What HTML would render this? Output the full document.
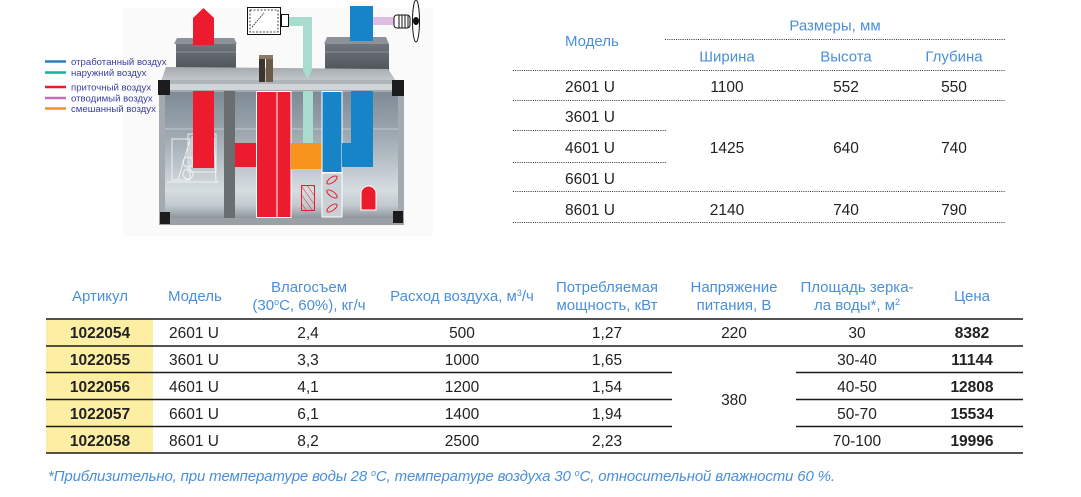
<!DOCTYPE html>
<html>
<head>
<meta charset="utf-8">
<style>
html,body{margin:0;padding:0;background:#fff;}
svg{display:block;}
text{font-family:"Liberation Sans",Arial,sans-serif;}
</style>
</head>
<body>
<svg width="1081" height="497" viewBox="0 0 1081 497" xmlns="http://www.w3.org/2000/svg">
<defs>
<linearGradient id="panel" x1="0" y1="0" x2="0" y2="1">
<stop offset="0" stop-color="#7e8a95"/>
<stop offset="0.3" stop-color="#99a4ad"/>
<stop offset="0.55" stop-color="#b8c1c8"/>
<stop offset="0.78" stop-color="#d6dde1"/>
<stop offset="0.9" stop-color="#c3cacf"/>
<stop offset="1" stop-color="#8e959b"/>
</linearGradient>
<linearGradient id="topplate" x1="0" y1="0" x2="0" y2="1">
<stop offset="0" stop-color="#a4a9ae"/>
<stop offset="1" stop-color="#cdd1d5"/>
</linearGradient>
<linearGradient id="hood" x1="0" y1="0" x2="0" y2="1">
<stop offset="0" stop-color="#6f757b"/>
<stop offset="1" stop-color="#41464b"/>
</linearGradient>
<pattern id="hatch" width="5" height="5" patternUnits="userSpaceOnUse" patternTransform="rotate(-35)">
<line x1="0" y1="0" x2="0" y2="5" stroke="#ec1c2e" stroke-width="1"/>
</pattern>
</defs>

<!-- ===== Diagram ===== -->
<rect x="123" y="8" width="310" height="228" fill="#fafafa"/>

<!-- hoods -->
<polygon points="177,38 234,38 237,44 174,44" fill="#8c9297"/>
<rect x="176" y="44" width="60" height="36" fill="url(#hood)"/>
<line x1="176" y1="52" x2="236" y2="52" stroke="#8a9095" stroke-width="1"/>
<line x1="176" y1="68" x2="236" y2="68" stroke="#6a7076" stroke-width="1"/>
<polygon points="327,37 386,37 389,44 324,44" fill="#8c9297"/>
<rect x="325" y="44" width="64" height="38" fill="url(#hood)"/>
<line x1="325" y1="52" x2="389" y2="52" stroke="#8a9095" stroke-width="1"/>
<line x1="325" y1="70" x2="389" y2="70" stroke="#6a7076" stroke-width="1"/>

<!-- top plate -->
<polygon points="166,67 388,69 398,84 160,84" fill="url(#topplate)"/>
<rect x="160" y="80" width="243" height="4" fill="#b0b5ba"/>
<rect x="163" y="84" width="237" height="8" fill="#d2d5d8"/>
<!-- small pipes -->
<rect x="259" y="55" width="6" height="27" fill="#3b3530"/>
<rect x="266" y="55" width="7" height="27" fill="#6b5a48"/>
<rect x="259" y="55" width="14" height="4" fill="#8a7a66"/>

<!-- body -->
<rect x="159" y="90" width="245" height="135" fill="#a4aab0"/>
<rect x="165" y="92" width="233" height="126" fill="url(#panel)"/>
<line x1="165" y1="129" x2="398" y2="129" stroke="#c0c8ce" stroke-width="1"/>
<rect x="159" y="218" width="245" height="7" fill="#9aa0a6"/>
<!-- corners -->
<rect x="158" y="80" width="12" height="15" fill="#1c1c1e"/>
<rect x="392" y="80" width="12" height="16" fill="#1c1c1e"/>
<rect x="160" y="212" width="10" height="12" fill="#1c1c1e"/>
<rect x="393" y="211" width="10" height="12" fill="#1c1c1e"/>

<!-- white line drawing -->
<g stroke="#f4f6f7" stroke-width="1" fill="none" opacity="0.9">
<rect x="172" y="139" width="18" height="41"/>
<rect x="188" y="134" width="28" height="38"/>
<rect x="192" y="137" width="20" height="30"/>
<line x1="167" y1="182" x2="218" y2="182"/>
<line x1="178" y1="180" x2="190" y2="140"/>
<circle cx="188" cy="162" r="5"/>
<circle cx="188" cy="174" r="5"/>
<line x1="214" y1="137" x2="216" y2="182"/>
</g>

<!-- internal flows -->
<rect x="193" y="91" width="21" height="77" fill="#ec1c2e"/>
<rect x="224" y="91" width="11" height="127" fill="#6b6e70"/>
<rect x="235" y="143" width="21" height="24" fill="#ec1c2e"/>
<rect x="256.5" y="91.5" width="20.5" height="126" fill="#ec1c2e" stroke="#fff" stroke-width="1"/>
<rect x="277" y="91.5" width="14" height="126" fill="#ec1c2e" stroke="#fff" stroke-width="1"/>
<rect x="303" y="91" width="10" height="52" fill="#a8dccf"/>
<rect x="291" y="143" width="31" height="26" fill="#f7941d"/>
<rect x="322" y="91.5" width="20" height="81" fill="#1784c7" stroke="#fff" stroke-width="1"/>
<rect x="322" y="173" width="20" height="44" fill="#c9d1d6" stroke="#fff" stroke-width="1"/>
<path d="M351,91 H373 V167 H342 V143 H351 Z" fill="#1784c7"/>
<rect x="301.5" y="185.5" width="13" height="25" fill="url(#hatch)" stroke="#ec1c2e" stroke-width="1"/>
<path d="M361,210 V193.5 a7.5,7.5 0 0 1 15,0 V210 Z" fill="#ec1c2e" stroke="#fff" stroke-width="1"/>
<g fill="none" stroke="#ec1c2e" stroke-width="1">
<ellipse cx="332" cy="180" rx="6" ry="2.6" transform="rotate(-35 332 180)"/>
<ellipse cx="332" cy="194" rx="6" ry="2.6" transform="rotate(35 332 194)"/>
<ellipse cx="332" cy="208" rx="6" ry="2.6" transform="rotate(-35 332 208)"/>
</g>

<!-- top externals -->
<polygon points="193,45 193,18 203.5,8 214,18 214,45" fill="#ec1c2e"/>
<rect x="247.5" y="7.5" width="33" height="27" fill="#fff" stroke="#111" stroke-width="1"/>
<rect x="250" y="10" width="28" height="22" fill="none" stroke="#111" stroke-width="0.8" stroke-dasharray="2 1.5"/>
<line x1="252" y1="27" x2="264" y2="13" stroke="#333" stroke-width="1" stroke-dasharray="1.5 1"/>
<rect x="281.5" y="14.5" width="7" height="12" fill="#fff" stroke="#111" stroke-width="1"/>
<path d="M289,17 H312 V70 L307.5,79 L303,70 V26 H289 Z" fill="#a8dccf"/>
<rect x="350" y="6" width="23" height="35" fill="#1784c7"/>
<rect x="373" y="17" width="21" height="8" fill="#ddbde0"/>
<rect x="394" y="15" width="16" height="13" rx="3" fill="#fff" stroke="#111" stroke-width="1"/>
<g stroke="#111" stroke-width="1"><line x1="399" y1="15" x2="399" y2="28"/><line x1="402" y1="15" x2="402" y2="28"/><line x1="405" y1="15" x2="405" y2="28"/><line x1="408" y1="15" x2="408" y2="28"/></g>
<ellipse cx="416" cy="21" rx="3.5" ry="21" fill="#fff" stroke="#111" stroke-width="1"/>
<ellipse cx="416" cy="21" rx="3" ry="4" fill="#111"/>

<!-- legend -->
<g stroke-width="2.6">
<line x1="45" y1="61.5" x2="66" y2="61.5" stroke="#2b7bc4"/>
<line x1="45" y1="72.5" x2="66" y2="72.5" stroke="#11b39b"/>
<line x1="45" y1="87" x2="66" y2="87" stroke="#e61e2a"/>
<line x1="45" y1="98" x2="66" y2="98" stroke="#c86cb5"/>
<line x1="45" y1="108.5" x2="66" y2="108.5" stroke="#f39322"/>
</g>
<g font-size="9.6" fill="#3b3f9e">
<text x="71" y="65">отработанный воздух</text>
<text x="71" y="76">наружний воздух</text>
<text x="71" y="90.5">приточный воздух</text>
<text x="71" y="101.5">отводимый воздух</text>
<text x="71" y="112">смешанный воздух</text>
</g>

<!-- ===== Top table ===== -->
<g stroke="#333" stroke-width="1" stroke-dasharray="1 1.2">
<line x1="665" y1="39.5" x2="1005" y2="39.5"/>
<line x1="513" y1="70.5" x2="1005" y2="70.5"/>
<line x1="513" y1="100.5" x2="1005" y2="100.5"/>
<line x1="513" y1="130.5" x2="666" y2="130.5"/>
<line x1="513" y1="162.5" x2="666" y2="162.5"/>
<line x1="513" y1="191.5" x2="1005" y2="191.5"/>
<line x1="513" y1="222.5" x2="1005" y2="222.5"/>
</g>
<g font-size="15" fill="#4a8fdb">
<text x="565" y="46">Модель</text>
<text x="835" y="30.5" text-anchor="middle">Размеры, мм</text>
<text x="727" y="61.5" text-anchor="middle">Ширина</text>
<text x="846" y="61.5" text-anchor="middle">Высота</text>
<text x="954" y="61.5" text-anchor="middle">Глубина</text>
</g>
<g font-size="15.5" fill="#222">
<text x="565" y="92">2601 U</text>
<text x="565" y="122">3601 U</text>
<text x="565" y="153">4601 U</text>
<text x="565" y="184">6601 U</text>
<text x="565" y="215">8601 U</text>
<g text-anchor="middle">
<text x="727" y="92">1100</text>
<text x="846" y="92">552</text>
<text x="954" y="92">550</text>
<text x="727" y="153">1425</text>
<text x="846" y="153">640</text>
<text x="954" y="153">740</text>
<text x="727" y="215">2140</text>
<text x="846" y="215">740</text>
<text x="954" y="215">790</text>
</g>
</g>

<!-- ===== Bottom table ===== -->
<rect x="46" y="319" width="107" height="134" fill="#fcefa4"/>
<g stroke="#1a1a1a" stroke-width="1.4">
<line x1="46" y1="319" x2="1023" y2="319"/>
<line x1="46" y1="346" x2="1023" y2="346"/>
<line x1="46" y1="372.5" x2="672" y2="372.5"/>
<line x1="796" y1="372.5" x2="1023" y2="372.5"/>
<line x1="46" y1="399.5" x2="672" y2="399.5"/>
<line x1="796" y1="399.5" x2="1023" y2="399.5"/>
<line x1="46" y1="426.5" x2="672" y2="426.5"/>
<line x1="796" y1="426.5" x2="1023" y2="426.5"/>
<line x1="46" y1="453" x2="1023" y2="453"/>
</g>
<g font-size="15" fill="#4a8fdb" text-anchor="middle">
<text x="100" y="301">Артикул</text>
<text x="168" y="301" text-anchor="start">Модель</text>
<text x="309" y="292">Влагосъем</text>
<text x="309" y="310">(30<tspan font-size="9" dy="-5">о</tspan><tspan dy="5">С, 60%), кг/ч</tspan></text>
<text x="462" y="301">Расход воздуха, м<tspan font-size="9" dy="-5">3</tspan><tspan dy="5">/ч</tspan></text>
<text x="607" y="292">Потребляемая</text>
<text x="607" y="310">мощность, кВт</text>
<text x="734" y="292">Напряжение</text>
<text x="734" y="310">питания, В</text>
<text x="857" y="292">Площадь зерка-</text>
<text x="857" y="310">ла воды*, м<tspan font-size="9" dy="-5">2</tspan></text>
<text x="972" y="301">Цена</text>
</g>
<g font-size="15.5" fill="#222">
<g font-weight="bold" text-anchor="middle">
<text x="100" y="338">1022054</text>
<text x="100" y="365">1022055</text>
<text x="100" y="392">1022056</text>
<text x="100" y="419">1022057</text>
<text x="100" y="446">1022058</text>
<text x="972" y="338">8382</text>
<text x="972" y="365">11144</text>
<text x="972" y="392">12808</text>
<text x="972" y="419">15534</text>
<text x="972" y="446">19996</text>
</g>
<text x="169" y="338">2601 U</text>
<text x="169" y="365">3601 U</text>
<text x="169" y="392">4601 U</text>
<text x="169" y="419">6601 U</text>
<text x="169" y="446">8601 U</text>
<g text-anchor="middle">
<text x="308" y="338">2,4</text>
<text x="308" y="365">3,3</text>
<text x="308" y="392">4,1</text>
<text x="308" y="419">6,1</text>
<text x="308" y="446">8,2</text>
<text x="462" y="338">500</text>
<text x="462" y="365">1000</text>
<text x="462" y="392">1200</text>
<text x="462" y="419">1400</text>
<text x="462" y="446">2500</text>
<text x="607" y="338">1,27</text>
<text x="607" y="365">1,65</text>
<text x="607" y="392">1,54</text>
<text x="607" y="419">1,94</text>
<text x="607" y="446">2,23</text>
<text x="734" y="338">220</text>
<text x="734" y="405">380</text>
<text x="857" y="338">30</text>
<text x="857" y="365">30-40</text>
<text x="857" y="392">40-50</text>
<text x="857" y="419">50-70</text>
<text x="857" y="446">70-100</text>
</g>
</g>

<!-- footer -->
<text x="48" y="481" font-size="15" font-style="italic" fill="#4a8fdb" textLength="787" lengthAdjust="spacing">*Приблизительно, при температуре воды 28 <tspan font-size="9" dy="-5">о</tspan><tspan dy="5">C, температуре воздуха 30 </tspan><tspan font-size="9" dy="-5">о</tspan><tspan dy="5">C, относительной влажности 60 %.</tspan></text>
</svg>
</body>
</html>
